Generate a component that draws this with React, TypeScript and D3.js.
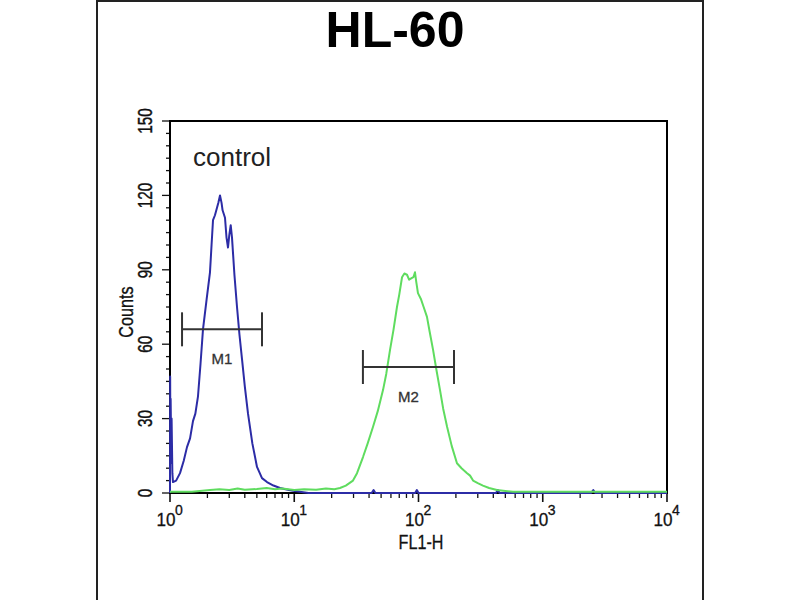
import * as d3 from 'd3';

// FL1-H value / count pairs
const controlFl = [1.0, 1.003, 1.008, 1.012, 1.02, 1.03, 1.045, 1.057, 1.12, 1.204, 1.29, 1.37, 1.45, 1.531, 1.6, 1.68, 1.76, 1.843, 1.97, 2.098, 2.16, 2.219, 2.3, 2.389, 2.45, 2.526, 2.6, 2.65, 2.771, 2.85, 2.93, 3.0, 3.08, 3.155, 3.3, 3.462, 3.62, 3.798, 4.0, 4.245, 4.6, 5.014, 5.5, 6.035, 6.8, 7.68, 8.5, 9.5, 11.1, 13, 42, 43.5, 45, 94, 97, 100, 420, 435, 450, 2450, 2550, 2650, 10000];
const controlCounts = [0, 47, 12, 38, 22, 30, 8, 4.4, 5, 8, 13, 18.5, 22, 29, 32, 39, 52, 66, 78, 89, 100, 110, 112, 115, 117, 120, 117, 114, 111, 103, 99, 104, 108, 103, 88, 75, 64, 54, 43, 32, 20, 10.5, 6, 4.4, 3, 2, 1.5, 1, 0.5, 0, 0, 1.2, 0, 0, 1.2, 0, 0, 1.2, 0, 0, 1.2, 0, 0];

const sampleFl = [1, 1.5, 2.1, 2.5, 3, 3.5, 4, 5, 6, 7, 8, 10, 12, 15, 18, 21, 23.35, 26, 29.7, 32, 35.76, 39, 43, 47, 51.8, 55, 59, 63, 67.1, 70, 73.7, 77, 80.8, 84, 88.7, 91, 93.7, 96, 99, 105, 110, 117, 123, 131, 139, 149, 158, 170, 185, 204, 222, 246, 260, 275, 300, 330, 370, 428, 500, 576, 700, 10000];
const sampleCounts = [0.5, 0.5, 1.2, 1.5, 1.2, 1.8, 1.3, 1.6, 2, 1.5, 1.8, 1.2, 1.5, 1.3, 1.8, 1.5, 2, 3, 5, 8, 14.5, 20, 26.6, 33, 41.5, 48, 57.7, 66, 75, 80, 87, 88.5, 88, 86, 86.7, 87, 89, 85, 80.6, 78, 75, 71, 65, 57.7, 50, 41.5, 34, 26.6, 19, 12, 10, 8, 7, 5, 4, 3, 2, 1.2, 0.8, 0.5, 0.5, 0.5];

const markerLabels = ['M1', 'M2'];
const markerLo = [1.25, 35.7];
const markerHi = [5.5, 193];
const markerCount = [66, 50.8];

const yTicks = [0, 30, 60, 90, 120, 150];
const xDecades = [1, 10, 100, 1000, 10000];
const xExponents = ['0', '1', '2', '3', '4'];

const font = '"Liberation Sans", Arial, sans-serif';

function App() {
    const left = 170, right = 667, top = 121, bottom = 493;

    const x = d3.scaleLog().domain([1, 10000]).range([left, right]);
    const y = d3.scaleLinear().domain([0, 150]).range([bottom, top]);

    // builds the histogram outline from a pair of arrays
    const path = (fl: number[], counts: number[]) =>
        d3.line<number>()
            .x((_, i) => x(fl[i]))
            .y(d => y(d))(counts) ?? '';

    // minor ticks: every 5 counts on y, 2..9 in each decade on x
    const yMinor = d3.range(0, 151, 5);
    const xMinor: number[] = [];
    for (let e = 0; e < 4; e++) {
        for (let m = 2; m <= 9; m++) xMinor.push(m * Math.pow(10, e));
    }

    return (
        <svg width={800} height={600} style={{ position: 'absolute', left: 0, top: 0, background: '#fff' }}
            fontFamily={font}>
            <rect x={97} y={1} width={606} height={620} fill="none" stroke="#222" strokeWidth={2} />

            <text x={395} y={47} textAnchor="middle" fontSize={50} fontWeight="bold" fill="#000">HL-60</text>

            {/* y axis ticks */}
            {yMinor.map(t => (
                <line key={'ym' + t} x1={left - (yTicks.includes(t) ? 8 : 4)} x2={left} y1={y(t)} y2={y(t)}
                    stroke="#111" strokeWidth={1.3} />
            ))}
            {yTicks.map(t => (
                <text key={'yl' + t} transform={`translate(152, ${y(t)}) rotate(-90) scale(0.9, 1.15)`}
                    textAnchor="middle" fontSize={17} fill="#111" stroke="#111" strokeWidth={0.35}>{t}</text>
            ))}
            <text transform={`translate(133, 312) rotate(-90) scale(0.9, 1.1)`} textAnchor="middle"
                fontSize={18} fill="#111" stroke="#111" strokeWidth={0.3}>Counts</text>

            {/* x axis ticks */}
            {xMinor.map(t => (
                <line key={'xm' + t} x1={x(t)} x2={x(t)} y1={bottom} y2={bottom + 5}
                    stroke="#111" strokeWidth={1.3} />
            ))}
            {xDecades.map((t, i) => (
                <g key={'xl' + t} fill="#111" stroke="#111" strokeWidth={0.3}>
                    <line x1={x(t)} x2={x(t)} y1={bottom} y2={bottom + 9} strokeWidth={1.6} />
                    <text transform={`translate(${x(t) - 4}, 526) scale(0.9, 1)`} textAnchor="middle"
                        fontSize={19}>10</text>
                    <text x={x(t) + 9} y={515} textAnchor="middle" fontSize={14}>{xExponents[i]}</text>
                </g>
            ))}
            <text transform="translate(421, 549) scale(0.85, 1.05)" textAnchor="middle" fontSize={19}
                fill="#111" stroke="#111" strokeWidth={0.3}>FL1-H</text>

            <rect x={left} y={top} width={right - left} height={bottom - top} fill="none" stroke="#000"
                strokeWidth={2} />

            {/* histograms */}
            <path d={path(controlFl, controlCounts)} fill="none" stroke="#2c2ca6" strokeWidth={2}
                strokeLinejoin="round" />
            <path d={path(sampleFl, sampleCounts)} fill="none" stroke="#5fdc5f" strokeWidth={2}
                strokeLinejoin="round" />

            <text x={193} y={166} fontSize={26} fill="#222">control</text>

            {/* marker bars */}
            {markerLabels.map((m, i) => {
                const x1 = x(markerLo[i]);
                const x2 = x(markerHi[i]);
                const yy = y(markerCount[i]);
                const mid = x(Math.sqrt(markerLo[i] * markerHi[i]));
                return (
                    <g key={m} stroke="#333" strokeWidth={2}>
                        <line x1={x1} x2={x2} y1={yy} y2={yy} />
                        <line x1={x1} x2={x1} y1={yy - 17} y2={yy + 17} />
                        <line x1={x2} x2={x2} y1={yy - 17} y2={yy + 17} />
                        <text x={mid} y={yy + 35} textAnchor="middle" fontSize={15} stroke="#333"
                            strokeWidth={0.3} fill="#333">{m}</text>
                    </g>
                );
            })}
        </svg>
    );
}

export default App;
